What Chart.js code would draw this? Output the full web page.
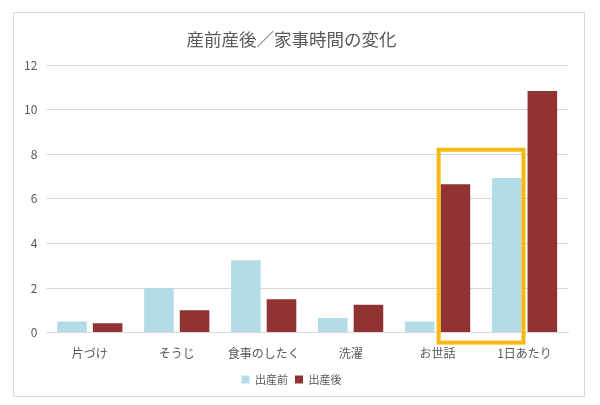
<!DOCTYPE html>
<html><head><meta charset="utf-8">
<script src="https://cdn.jsdelivr.net/npm/chart.js@4/dist/chart.umd.min.js"></script>
<style>
html,body{margin:0;padding:0;background:#fff;}
#box{position:absolute;left:13px;top:12px;width:570px;height:383px;border:1px solid #d9d9d9;background:#fff;}
</style></head>
<body>
<div id="box"><canvas id="c" width="570" height="383"></canvas></div>
<script>
const categories = ['片づけ','そうじ','食事のしたく','洗濯','お世話','1日あたり'];
const before = [0.5, 2.0, 3.25, 0.65, 0.5, 6.93];
const after = [0.42, 1.0, 1.5, 1.25, 6.65, 10.83];
const seriesNames = ['出産前','出産後'];
const highlightTop = 8.2;

const FONT = '"Noto Sans CJK JP", "Noto Sans", sans-serif';

const highlight = {
  id:'highlight',
  afterDatasetsDraw(chart){
    const a = chart.getDatasetMeta(1).data[4];
    const b = chart.getDatasetMeta(0).data[5];
    const y = chart.scales.y;
    const left = a.x - a.width/2 - 2;
    const right = b.x + b.width/2 + 2;
    const top = y.getPixelForValue(highlightTop);
    const bottom = y.getPixelForValue(0) + 10;
    const ctx = chart.ctx;
    ctx.save();
    ctx.strokeStyle = '#f5b90f';
    ctx.lineWidth = 4;
    ctx.strokeRect(left, top, right-left, bottom-top);
    ctx.restore();
  }
};

new Chart(document.getElementById('c'), {
  type:'bar',
  data:{
    labels:categories,
    datasets:[
      {label:seriesNames[0], data:before, backgroundColor:'#b4dce7'},
      {label:seriesNames[1], data:after, backgroundColor:'#923333'}
    ]
  },
  options:{
    responsive:false,
    animation:false,
    layout:{padding:{left:1,right:16,top:10,bottom:1}},
    categoryPercentage:0.82,
    barPercentage:0.83,
    plugins:{
      title:{display:true, text:'産前産後／家事時間の変化', color:'#595959',
        font:{family:FONT, size:17.5, weight:'normal'}, padding:{top:6,bottom:15}},
      legend:{position:'bottom', labels:{color:'#595959', boxWidth:8, boxHeight:8,
        font:{family:FONT, size:11}, padding:7}},
      tooltip:{enabled:false}
    },
    scales:{
      x:{grid:{display:false}, border:{color:'#d9d9d9'},
        ticks:{color:'#595959', font:{family:FONT, size:12}, padding:6}},
      y:{min:0, max:12, ticks:{stepSize:2, color:'#595959', font:{family:FONT, size:12}, padding:9},
        grid:{color:'#d9d9d9', drawTicks:false}, border:{display:false}}
    }
  },
  plugins:[highlight]
});
</script>
</body></html>
